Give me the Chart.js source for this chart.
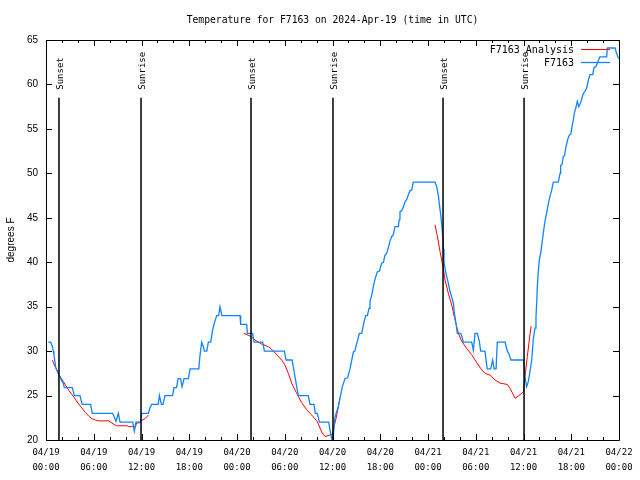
<!DOCTYPE html>
<html lang="en">
<head>
  <meta charset="UTF-8">
  <title>Temperature for F7163</title>
  <script src="https://cdn.jsdelivr.net/npm/chart.js"></script>
  <style>
    body { margin: 0; background: #fff; }
    canvas { display: block; }
  </style>
</head>
<body>
  <canvas id="tempChart" width="640" height="480"></canvas>

  <script>
    // hours after 04/19 00:00 UTC
    const xTickLabels = [
      ['04/19', '00:00'], ['04/19', '06:00'], ['04/19', '12:00'], ['04/19', '18:00'],
      ['04/20', '00:00'], ['04/20', '06:00'], ['04/20', '12:00'], ['04/20', '18:00'],
      ['04/21', '00:00'], ['04/21', '06:00'], ['04/21', '12:00'], ['04/21', '18:00'],
      ['04/22', '00:00']
    ];

    const sunTimes = [1.63, 11.94, 25.76, 36.06, 49.89, 60.07];
    const sunLabels = ['Sunset', 'Sunrise', 'Sunset', 'Sunrise', 'Sunset', 'Sunrise'];
    const sunLineTop = 58.5;

    // F7163 observations
    const obsHours = [
      0.29, 0.59, 0.8, 0.92, 1.0, 1.09, 1.21, 1.34, 1.59, 1.76, 1.88, 2.01, 2.18, 2.3, 3.31, 3.56, 4.27, 4.4, 4.56, 5.61,
      5.82, 8.38, 8.8, 9.09, 9.3, 10.9, 11.1, 11.31, 11.9, 12.02, 12.86, 13.05, 13.28, 14.1, 14.25, 14.5, 14.7, 14.95, 15.9, 16.08,
      16.4, 16.6, 16.9, 17.1, 17.34, 17.9, 18.1, 19.2, 19.35, 19.56, 19.77, 19.9, 20.2, 20.4, 20.7, 20.94, 21.2, 21.45, 21.7, 21.86,
      22.1, 24.38, 24.46, 25.22, 25.3, 25.97, 26.14, 27.23, 27.44, 29.95, 30.16, 30.91, 31.08, 31.29, 31.5, 31.71, 32.96, 33.17, 33.68, 33.84,
      34.1, 34.35, 35.52, 35.69, 35.9, 36.05, 36.32, 36.74, 36.94, 37.24, 37.57, 37.9, 38.2, 38.62, 38.8, 39.37, 39.67, 39.96, 40.17, 40.38,
      40.59, 40.71, 40.93, 41.13, 41.34, 41.63, 41.9, 42.18, 42.4, 42.6, 42.8, 43.01, 43.23, 43.44, 43.6, 43.86, 44.27, 44.4, 44.48, 44.7,
      44.9, 45.11, 45.3, 45.53, 45.74, 45.95, 46.16, 48.88, 49.1, 49.3, 49.42, 49.6, 49.72, 49.85, 49.93, 50.01, 50.18, 50.35, 50.56, 50.77,
      50.98, 51.18, 51.31, 51.52, 51.69, 52.11, 52.27, 52.44, 53.49, 53.7, 53.91, 54.2, 54.45, 54.62, 55.16, 55.38, 55.46, 55.88, 56.13, 56.3,
      56.55, 56.71, 57.68, 57.97, 58.2, 58.43, 59.98, 60.1, 60.23, 60.4, 60.61, 60.82, 61.03, 61.24, 61.45, 61.57, 61.66, 61.74, 61.87, 61.99,
      62.16, 62.29, 62.49, 62.7, 62.92, 63.12, 63.33, 63.54, 63.75, 64.38, 64.59, 64.67, 64.85, 65.0, 65.15, 65.34, 65.55, 65.76, 65.95, 66.06,
      66.26, 66.39, 66.56, 66.76, 66.95, 67.2, 67.52, 67.7, 67.94, 68.15, 68.36, 68.7, 68.86, 69.1, 69.4, 69.6, 70.45, 70.53, 71.5, 71.7,
      71.9, 72
    ];
    const obsTemps = [
      31, 31, 30.5, 30, 29.6, 29, 28.2, 27.9, 27.4, 27.1, 27.1, 26.6, 26.4, 25.9, 25.9, 25, 25, 24.5, 24, 24,
      23, 23, 22.1, 23, 22, 22, 21, 22, 22, 23, 23, 23.6, 24, 24, 25, 24, 24, 25, 25, 25.9,
      25.9, 26.9, 26.9, 26, 26.9, 26.9, 28, 28, 29.5, 31, 30.5, 30, 30, 31, 31, 32.4, 33.3, 34, 34, 35,
      34, 34, 33, 33, 32, 32, 31, 31, 30, 30, 29, 29, 28.2, 27.1, 26, 25, 25, 24, 24, 23,
      23, 22, 22, 21.1, 20.1, 20.1, 22.6, 23.8, 24.7, 26, 26.9, 27, 28, 29.9, 30, 32, 32, 33.3, 34, 34,
      34.8, 35.6, 36.3, 37.25, 38.1, 38.9, 39, 39.9, 40, 40.8, 41, 41.6, 42.4, 42.9, 43, 44, 44, 44.8, 45.7, 45.8,
      46.2, 46.8, 47, 47.6, 48.05, 48.1, 49, 49, 48.5, 47.5, 46.6, 45.3, 44.3, 42.9, 41.5, 40, 39.1, 38.4, 37.6, 36.7,
      36.1, 35.4, 34.3, 33.1, 32, 32, 31.6, 31, 31, 30.1, 32, 32, 31.1, 30, 30, 28.4, 28, 28, 29, 28,
      28, 31, 31, 30, 29.6, 29, 29, 28.3, 26.8, 26, 26.6, 27.7, 29, 31.4, 32.6, 33.9, 35.4, 37.3, 39.1, 40.3,
      41, 41.9, 43.3, 44.6, 45.6, 46.6, 47.4, 48.1, 49, 49, 50, 50.9, 51, 51.9, 52, 53, 53.8, 54.3, 54.4, 55.1,
      56, 56.8, 57.3, 58.1, 57.5, 58, 59, 59.2, 59.6, 60.5, 61.1, 61.1, 61.9, 62, 62.7, 63.1, 63.1, 64.1, 64.1, 63.5,
      63, 63
    ];

    // F7163 Analysis (null = gap between nights)
    const anaHours = [
      0.8, 1.13, 1.34, 1.59, 1.93, 2.44, 2.86, 3.27, 3.69, 4.1, 4.52, 4.94, 5.36, 5.78, 6.2, 6.62, 7.87, 8.29, 8.84, 10.18,
      10.39, 11.22, 11.4, 11.8, 12.02, 12.44, 12.86,
      18,
      24.88, 25.63, 26.26, 27.1, 27.94, 28.36, 28.99, 29.62, 30.03, 30.45, 30.87, 31.5, 32.13, 32.76, 33.6, 34.1, 34.64, 35.06,
      35.69, 36.0, 36.19, 36.44, 36.74, 36.94,
      43,
      48.88, 49.1, 49.3, 49.51, 49.72, 49.93, 50.14, 50.56, 50.98, 51.4, 51.82, 52.24, 52.87, 53.49, 54.12, 54.75, 55.16, 55.79,
      56.42, 57.05, 57.97, 58.31, 58.94, 59.35, 59.77, 59.98, 60.19, 60.48, 60.73, 60.95
    ];
    const anaTemps = [
      29, 28.3, 27.9, 27.4, 26.9, 26.2, 25.6, 25.1, 24.6, 24.05, 23.6, 23.1, 22.7, 22.4, 22.25, 22.15, 22.15, 21.9, 21.6, 21.6,
      21.5, 21.5, 21.9, 21.95, 22.2, 22.4, 22.8,
      null,
      32, 31.7, 31.25, 30.8, 30.5, 30.2, 29.6, 29, 28.4, 27.5, 26.4, 25.25, 24.2, 23.4, 22.6, 22.06, 20.9, 20.4,
      20.56, 20.67, 21.5, 22.4, 23.75, 24.7,
      null,
      44.2, 43.25, 42.3, 41.2, 40.25, 39.3, 38, 36.5, 35.2, 33.5, 32, 31.1, 30.3, 29.6, 28.7, 27.9, 27.5, 27.3,
      26.75, 26.4, 26.25, 25.8, 24.7, 24.95, 25.25, 25.4, 27.1, 29.4, 31.25, 32.8
    ];

    const MONO = '"DejaVu Sans Mono", monospace';
    const SANS = '"Liberation Sans", Arial, sans-serif';

    const sunData = [];
    sunTimes.forEach(t => {
      sunData.push({ x: t, y: 20 }, { x: t, y: sunLineTop }, { x: t, y: null });
    });

    // gnuplot-style frame: box, inward ticks on all four sides, sun labels, key
    const gnuplotFrame = {
      id: 'gnuplotFrame',
      afterDraw(chart) {
        const ctx = chart.ctx;
        const a = chart.chartArea;
        const xs = chart.scales.x, ys = chart.scales.y;
        ctx.save();
        ctx.strokeStyle = '#000';
        ctx.lineWidth = 1;
        ctx.beginPath();
        ctx.rect(Math.round(a.left) + 0.5, Math.round(a.top) + 0.5,
          Math.round(a.right - a.left), Math.round(a.bottom - a.top));
        xs.ticks.forEach(t => {
          const px = Math.round(xs.getPixelForValue(t.value)) + 0.5;
          const len = t.value % 6 === 0 ? 6 : 3;
          ctx.moveTo(px, a.bottom); ctx.lineTo(px, a.bottom - len);
          ctx.moveTo(px, a.top); ctx.lineTo(px, a.top + len);
        });
        ys.ticks.forEach(t => {
          const py = Math.round(ys.getPixelForValue(t.value)) + 0.5;
          ctx.moveTo(a.left, py); ctx.lineTo(a.left + 6, py);
          ctx.moveTo(a.right, py); ctx.lineTo(a.right - 6, py);
        });
        ctx.stroke();

        // Sunset / Sunrise labels above the lines
        ctx.fillStyle = '#000';
        ctx.font = '9px ' + MONO;
        ctx.textAlign = 'left';
        ctx.textBaseline = 'middle';
        sunTimes.forEach((t, i) => {
          const px = xs.getPixelForValue(t);
          ctx.save();
          ctx.translate(px + 2, ys.getPixelForValue(59.4));
          ctx.rotate(-Math.PI / 2);
          ctx.fillText(sunLabels[i], 0, 0);
          ctx.restore();
        });

        // key, top right
        ctx.font = '10px ' + MONO;
        ctx.textAlign = 'right';
        [2, 1].forEach((di, row) => {
          const ds = chart.data.datasets[di];
          const y = a.top + 10 + row * 13;
          ctx.fillStyle = '#000';
          ctx.fillText(ds.label, a.right - 45, y);
          ctx.strokeStyle = ds.borderColor;
          ctx.lineWidth = ds.borderWidth;
          ctx.beginPath();
          ctx.moveTo(a.right - 38, Math.round(y) - 0.5);
          ctx.lineTo(a.right - 9, Math.round(y) - 0.5);
          ctx.stroke();
        });
        ctx.restore();
      }
    };

    new Chart(document.getElementById('tempChart'), {
      type: 'line',
      data: {
        datasets: [
          { label: 'sun', data: sunData, borderColor: '#000', borderWidth: 1.5, spanGaps: false },
          {
            label: 'F7163',
            data: obsHours.map((h, i) => ({ x: h, y: obsTemps[i] })),
            borderColor: 'rgb(16,132,255)', borderWidth: 1.3
          },
          {
            label: 'F7163 Analysis',
            data: anaHours.map((h, i) => ({ x: h, y: anaTemps[i] })),
            borderColor: '#ff0000', borderWidth: 1, spanGaps: false
          }
        ]
      },
      options: {
        responsive: false,
        animation: false,
        devicePixelRatio: 1,
        layout: { padding: { left: 0, right: 21, top: 0, bottom: 0 } },
        elements: { point: { radius: 0 }, line: { tension: 0 } },
        plugins: {
          legend: { display: false },
          tooltip: { enabled: false },
          title: {
            display: true,
            fullSize: false,
            text: 'Temperature for F7163 on 2024-Apr-19 (time in UTC)',
            color: '#000',
            font: { family: MONO, size: 9.7, weight: 'normal', lineHeight: 1 },
            padding: { top: 16, bottom: 14.3 }
          }
        },
        scales: {
          x: {
            type: 'linear',
            min: 0, max: 72,
            grid: { display: false, drawTicks: false },
            border: { display: false },
            afterFit: s => { s.height = 40; },
            ticks: {
              stepSize: 2,
              autoSkip: false,
              maxRotation: 0, minRotation: 0,
              padding: 5.5,
              color: '#000',
              font: { family: MONO, size: 9, lineHeight: 15 / 9 },
              callback: v => (v % 6 === 0 ? xTickLabels[v / 6] : '')
            }
          },
          y: {
            min: 20, max: 65,
            grid: { display: false, drawTicks: false },
            border: { display: false },
            afterFit: s => { s.width = 46; },
            title: {
              display: true, text: 'degrees F', color: '#000',
              font: { family: SANS, size: 10 }, padding: { top: 5, bottom: 0 }
            },
            ticks: {
              stepSize: 5, padding: 8, color: '#000',
              font: { family: SANS, size: 10 }
            }
          }
        }
      },
      plugins: [gnuplotFrame]
    });
  </script>
</body>
</html>
